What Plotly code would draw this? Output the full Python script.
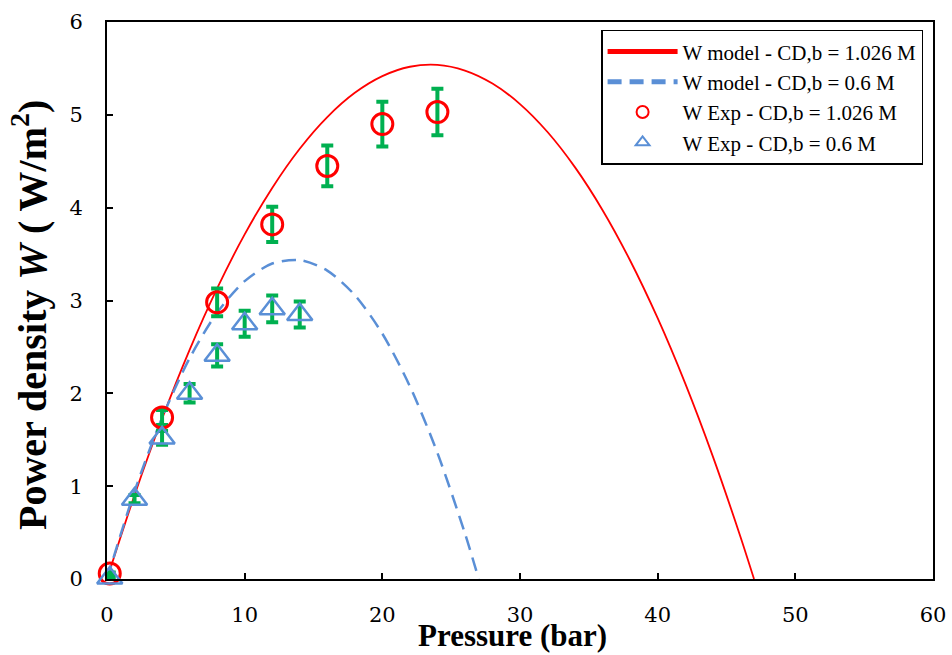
import plotly.graph_objects as go

# Model curves (power density vs applied pressure)
p_model_hi = [0, 2, 4, 6, 8, 10, 12, 14, 16, 18, 20, 22, 24, 26, 28, 30, 32, 34, 36, 38, 40, 42, 44, 46, 47]
w_model_hi = [0, 0.903, 1.726, 2.468, 3.130, 3.712, 4.213, 4.635, 4.976, 5.237, 5.417, 5.518, 5.538,
              5.477, 5.337, 5.116, 4.815, 4.434, 3.973, 3.431, 2.809, 2.107, 1.324, 0.461, 0]

p_model_lo = [0, 2, 4, 6, 8, 10, 12, 14, 16, 18, 20, 22, 24, 26, 27]
w_model_lo = [0, 0.944, 1.737, 2.378, 2.869, 3.209, 3.398, 3.435, 3.322, 3.058, 2.643, 2.076, 1.359, 0.491, 0]

# Experimental points with error bars
p_exp_hi = [0.2, 4, 8, 12, 16, 20, 24]
w_exp_hi = [0.06, 1.74, 2.98, 3.82, 4.45, 4.90, 5.03]
err_exp_hi = [0.01, 0.08, 0.15, 0.19, 0.22, 0.24, 0.25]

p_exp_lo = [0.2, 2, 4, 6, 8, 10, 12, 14]
w_exp_lo = [0.01, 0.86, 1.52, 2.00, 2.41, 2.75, 2.91, 2.85]
err_exp_lo = [0.0, 0.045, 0.075, 0.10, 0.12, 0.14, 0.145, 0.14]

x_ticks = [0, 10, 20, 30, 40, 50, 60]
y_ticks = [0, 1, 2, 3, 4, 5, 6]

names = [
    "W model - CD,b = 1.026 M",
    "W model - CD,b = 0.6 M",
    "W Exp - CD,b = 1.026 M",
    "W Exp - CD,b = 0.6 M",
]
x_title = "Pressure (bar)"
y_title = "Power density <i>W</i> ( W/m<sup>2</sup>)"

RED = "#FF0000"
BLUE = "#5A8FD6"
GREEN = "#00B050"

fig = go.Figure()

fig.add_trace(go.Scatter(
    x=p_model_hi, y=w_model_hi, mode="lines", name=names[0],
    line=dict(color=RED, width=1.8, shape="spline", smoothing=0.8),
))
fig.add_trace(go.Scatter(
    x=p_model_lo, y=w_model_lo, mode="lines", name=names[1],
    line=dict(color=BLUE, width=2.5, dash="14px,8px", shape="spline", smoothing=0.8),
))
fig.add_trace(go.Scatter(
    x=p_exp_hi, y=w_exp_hi, mode="markers", name=names[2], cliponaxis=False,
    marker=dict(symbol="circle-open", size=21, color=RED, line=dict(color=RED, width=3)),
    error_y=dict(type="data", array=err_exp_hi, visible=True, color=GREEN, thickness=4, width=6),
))
fig.add_trace(go.Scatter(
    x=p_exp_lo, y=w_exp_lo, mode="markers", name=names[3], cliponaxis=False,
    marker=dict(symbol="triangle-up-open", size=22, color=BLUE, line=dict(color=BLUE, width=2.5)),
    error_y=dict(type="data", array=err_exp_lo, visible=True, color=GREEN, thickness=4, width=6),
))

axis_common = dict(
    showline=True, linecolor="black", linewidth=2, mirror=True,
    ticks="inside", ticklen=6, tickwidth=2, tickcolor="black",
    showgrid=False, zeroline=False, automargin=False,
    tickfont=dict(family="DejaVu Serif", size=21, color="black"),
)

fig.update_layout(
    width=952, height=655,
    margin=dict(l=107, r=19, t=22, b=76),
    paper_bgcolor="white", plot_bgcolor="white",
    xaxis=dict(range=[0, 60], tickvals=x_ticks, ticklabelstandoff=16, **axis_common),
    yaxis=dict(range=[0, 6], tickvals=y_ticks, ticklabelstandoff=18, **axis_common),
    legend=dict(
        x=0.988, xanchor="right", y=0.986, yanchor="top",
        bgcolor="white", bordercolor="black", borderwidth=1.5,
        font=dict(family="Liberation Serif", size=21, color="black"),
        itemwidth=70, itemsizing="constant", tracegroupgap=0,
    ),
    showlegend=True,
    annotations=[
        dict(text=x_title, xref="paper", yref="paper", x=0.4915, y=-0.137,
             xanchor="center", yanchor="bottom", showarrow=False,
             font=dict(family="Liberation Serif", size=31, color="black", weight="bold")),
        dict(text=y_title, xref="paper", yref="paper", x=-0.0932, y=0.474,
             xanchor="center", yanchor="middle", showarrow=False, textangle=-90,
             font=dict(family="Liberation Serif", size=40, color="black", weight="bold")),
    ],
)

fig.write_html("out.html")
